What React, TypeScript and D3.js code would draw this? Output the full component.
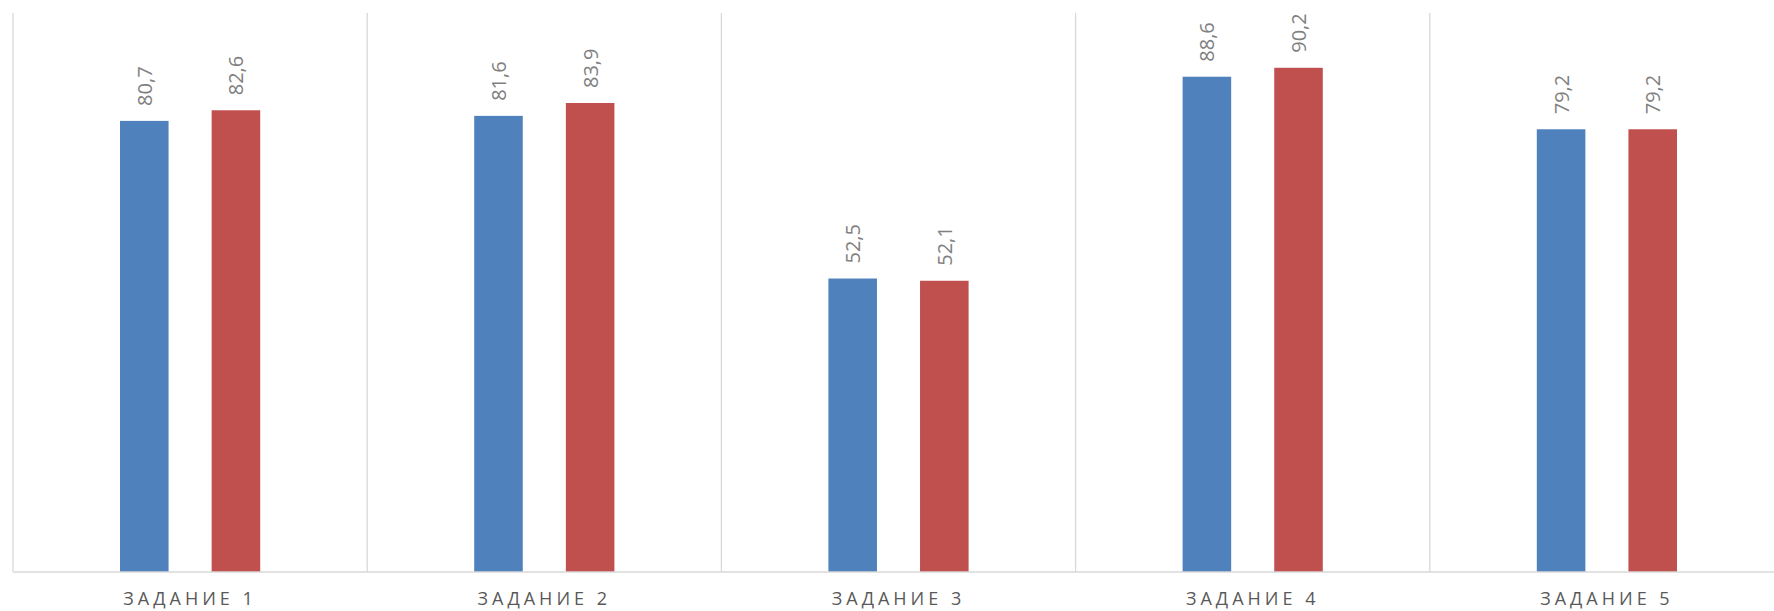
import React, { useRef, useEffect } from "react";
import * as d3 from "d3";

const categories = ["ЗАДАНИЕ 1", "ЗАДАНИЕ 2", "ЗАДАНИЕ 3", "ЗАДАНИЕ 4", "ЗАДАНИЕ 5"];
const seriesA = [80.7, 81.6, 52.5, 88.6, 79.2];
const seriesB = [82.6, 83.9, 52.1, 90.2, 79.2];
const seriesNames = ["A", "B"];
const colors = ["#4f81bd", "#c0504d"];

const W = 1774;
const H = 611;

const App: React.FC = () => {
  const ref = useRef<SVGSVGElement | null>(null);

  useEffect(() => {
    const svg = d3.select(ref.current);
    svg.selectAll("*").remove();

    const left = 13;
    const top = 13;
    const bottom = 572;
    const catW = 354.2;

    const x = d3
      .scaleBand<string>()
      .domain(categories)
      .range([left, left + catW * categories.length])
      .paddingInner(0)
      .paddingOuter(0);

    const inner = d3
      .scaleBand<string>()
      .domain(seriesNames)
      .range([107, catW - 107])
      .paddingInner(0.47);

    const y = d3.scaleLinear().domain([0, 100]).range([bottom, top]);

    const font = "'Open Sans', 'Segoe UI', sans-serif";

    // vertical gridlines at category boundaries
    const bounds = categories.map((c) => x(c) as number);
    bounds.push(left + catW * categories.length);
    svg
      .append("g")
      .selectAll("line")
      .data(bounds)
      .join("line")
      .attr("x1", (d) => d)
      .attr("x2", (d) => d)
      .attr("y1", top)
      .attr("y2", bottom)
      .attr("stroke", "#d9d9d9")
      .attr("stroke-width", 1.3);

    const data = [seriesA, seriesB];

    data.forEach((vals, si) => {
      const g = svg.append("g");
      g.selectAll("rect")
        .data(vals)
        .join("rect")
        .attr("x", (_, i) => (x(categories[i]) as number) + (inner(seriesNames[si]) as number))
        .attr("width", inner.bandwidth())
        .attr("y", (d) => y(d))
        .attr("height", (d) => bottom - y(d))
        .attr("fill", colors[si]);

      g.selectAll("text")
        .data(vals)
        .join("text")
        .attr("transform", (d, i) => {
          const cx =
            (x(categories[i]) as number) +
            (inner(seriesNames[si]) as number) +
            inner.bandwidth() / 2;
          return `translate(${cx},${y(d) - 15}) rotate(-90)`;
        })
        .attr("text-anchor", "start")
        .attr("dominant-baseline", "central")
        .attr("fill", "#808080")
        .style("font-family", font)
        .style("font-size", "20px")
        .text((d) => d.toFixed(1).replace(".", ","));
    });

    // bottom axis line
    svg
      .append("line")
      .attr("x1", left)
      .attr("x2", W)
      .attr("y1", bottom)
      .attr("y2", bottom)
      .attr("stroke", "#d9d9d9")
      .attr("stroke-width", 1.3);

    // category labels
    svg
      .append("g")
      .selectAll("text")
      .data(categories)
      .join("text")
      .attr("x", (d) => (x(d) as number) + x.bandwidth() / 2)
      .attr("y", 605)
      .attr("text-anchor", "middle")
      .attr("fill", "#595959")
      .style("font-family", font)
      .style("font-size", "18px")
      .style("letter-spacing", "4px")
      .text((d) => d);
  }, []);

  return (
    <svg
      ref={ref}
      width={W}
      height={H}
      style={{ position: "absolute", left: 0, top: 0, background: "#fff" }}
    />
  );
};

export default App;
